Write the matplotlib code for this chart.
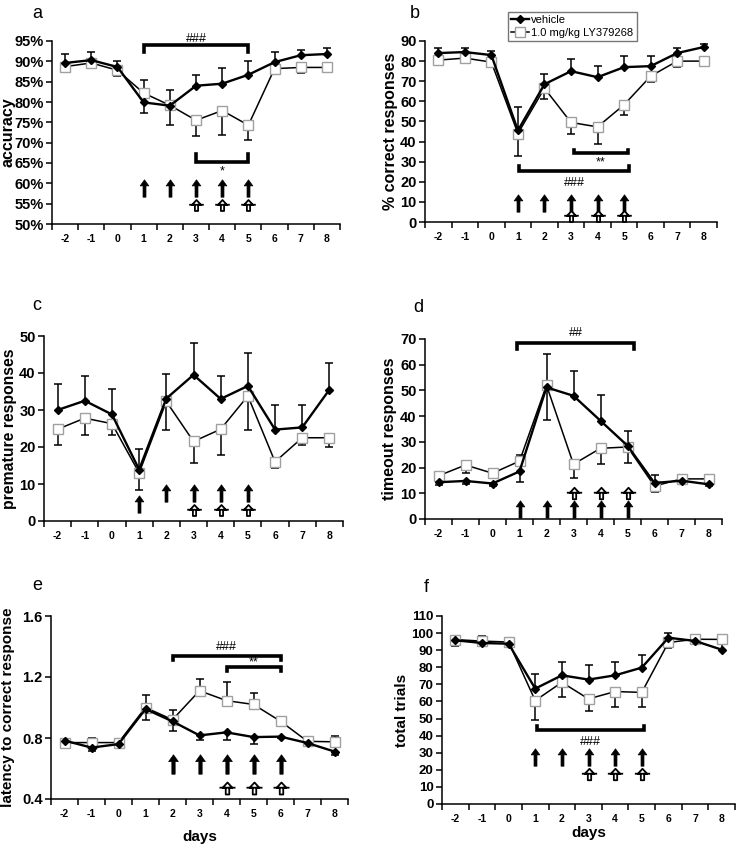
import matplotlib
matplotlib.use('Agg')
import matplotlib.pyplot as plt
from matplotlib.path import Path
from matplotlib.ticker import FixedLocator, FuncFormatter, NullFormatter
import numpy as np

plt.rcParams['font.family'] = ['Liberation Sans', 'DejaVu Sans']

# ---------------- data ----------------
days = [-2, -1, 0, 1, 2, 3, 4, 5, 6, 7, 8]
day_labels = [str(d) for d in days]
legend_labels = ['vehicle', '1.0 mg/kg LY379268']

# a: accuracy (%)
acc_veh = [89.6, 90.3, 88.6, 79.9, 79.1, 84.0, 84.5, 86.7, 89.8, 91.5, 91.8]
acc_veh_err = [2.2, 1.9, 1.4, -2.6, 3.9, 2.6, 3.8, 3.3, 2.6, 1.2, 1.4]
acc_drug = [88.7, 89.6, 87.8, 82.2, 79.2, 75.5, 77.9, 74.3, 88.2, 88.5, 88.5]
acc_drug_err = [-0.9, -1.0, -1.4, 3.2, -4.9, -3.9, -6.0, -3.6, -0.6, -1.3, -0.7]

# b: % correct responses
cor_veh = [84, 84.5, 83, 45.5, 68.5, 75, 72, 77, 77.5, 84, 87]
cor_veh_err = [2.5, 1.8, 2.2, 11.5, 5, 6, 5.5, 5.5, 4.8, 2.3, 1.5]
cor_drug = [80.5, 81.5, 79.5, 44, 66.5, 49.5, 47.3, 58.3, 72.5, 80, 80]
cor_drug_err = [-2.5, -2, -1.5, -11, -5.5, -5.7, -8.5, -5.3, -3, -3, -2.2]

# c: premature responses
pre_veh = [30, 32.5, 28.8, 13.9, 33.1, 39.5, 33, 36.5, 24.7, 25.3, 35.5]
pre_veh_err = [7, 6.7, 7, 5.5, 6.7, 8.5, 6.3, 8.9, 6.7, 6.1, 7.2]
pre_drug = [24.8, 27.8, 26.3, 13, 32.3, 21.5, 24.8, 33.8, 16, 22.5, 22.5]
pre_drug_err = [-4.2, -4.5, -3.1, -4.7, -7.7, -5.8, -7, -9.2, -1.7, -1.9, -2.4]

# d: timeout responses
to_veh = [14.3, 14.8, 13.8, 18.5, 51.2, 47.9, 38.2, 28.5, 14.0, 14.9, 13.5]
to_veh_err = [-1, -1, -1, -4, 13.1, 9.6, 10.1, 5.7, 3.3, -0.8, -0.8]
to_drug = [16.8, 21, 17.8, 22.5, 52, 21.3, 27.5, 28, 12.8, 15.6, 15.6]
to_drug_err = [1.5, -3, -2, 2.5, -13.5, -5.5, -6, -6.3, -2.3, 1.4, -0.8]

# e: latency to correct response
lat_veh = [0.783, 0.737, 0.760, 0.99, 0.909, 0.817, 0.837, 0.806, 0.809, 0.767, 0.711]
lat_veh_err = [-0.02, -0.02, -0.02, -0.07, -0.065, -0.03, -0.05, -0.045, -0.01, -0.01, -0.02]
lat_drug = [0.77, 0.77, 0.77, 1.0, 0.92, 1.11, 1.045, 1.02, 0.91, 0.778, 0.775]
lat_drug_err = [0.02, 0.03, 0.02, 0.08, 0.065, 0.075, 0.12, 0.075, 0.02, 0.015, 0.035]

# f: total trials
tt_veh = [95.8, 94.2, 93.8, 67.5, 75.3, 72.8, 75.3, 79.8, 97.3, 95.4, 90.3]
tt_veh_err = [2.7, 4, 2.7, 8.5, 7.7, 8.5, 8, 7.2, 2.9, 3.2, 4]
tt_drug = [96.2, 95.3, 94.8, 60.5, 71.2, 61.5, 65.8, 65.3, 94.5, 96.4, 96.3]
tt_drug_err = [-3.7, -2.8, -2.3, -11.5, -8.7, -7, -8.8, -8.6, -3.5, -1.9, -0.5]

# treatment arrows (days)
black_arrow_days = [1, 2, 3, 4, 5]
open_arrow_days = [3, 4, 5]
black_arrow_days_e = [2, 3, 4, 5, 6]
open_arrow_days_e = [4, 5, 6]

# ---------------- helpers ----------------
black_arrow = Path([(-0.5, 0.3), (0, 1), (0.5, 0.3), (0.17, 0.3), (0.17, -1),
                    (-0.17, -1), (-0.17, 0.3), (-0.5, 0.3)],
                   [Path.MOVETO] + [Path.LINETO] * 6 + [Path.CLOSEPOLY])
open_arrow = Path([(-0.6, 0.1), (0, 0.75), (0.6, 0.1), (0.22, 0.1), (0.22, -0.75),
                   (-0.22, -0.75), (-0.22, 0.1), (-0.6, 0.1),
                   (-1.0, 0.1), (1.0, 0.1)],
                  [Path.MOVETO] + [Path.LINETO] * 6 + [Path.CLOSEPOLY,
                   Path.MOVETO, Path.LINETO])

W, H = 740.0, 848.0


def panel(ax, veh, veh_err, drug, drug_err, ylim, yticks, fmt, tick_fs=10.5):
    x = np.asarray(days, float)
    for vals, errs in ((veh, veh_err), (drug, drug_err)):
        y0 = np.asarray(vals, float)
        y1 = y0 + np.asarray(errs, float)
        ax.vlines(x, y0, y1, color='black', lw=1.1, zorder=2)
        ax.plot(x, y1, ls='none', marker='_', ms=5.5, mew=1.1, color='black', zorder=2)
    ax.plot(x, drug, color='black', lw=1.1, marker='s', ms=6.5, mfc='white',
            mec='#a0a0a0', mew=1.0, zorder=3, label=legend_labels[1])
    ax.plot(x, veh, color='black', lw=1.7, marker='D', ms=4.5, mfc='black',
            mec='black', zorder=4, label=legend_labels[0])
    ax.set_xlim(-2.5, 8.5)
    ax.set_ylim(*ylim)
    ax.xaxis.set_major_locator(FixedLocator(np.arange(-2.5, 8.6, 1.0)))
    ax.xaxis.set_major_formatter(NullFormatter())
    ax.xaxis.set_minor_locator(FixedLocator(days))
    ax.set_xticklabels(day_labels, minor=True)
    ax.tick_params(axis='x', which='major', direction='out', length=4, width=1.1)
    ax.tick_params(axis='x', which='minor', length=0, pad=7, labelsize=7.5)
    for lab in ax.get_xticklabels(minor=True):
        lab.set_fontweight('bold')
    ax.set_yticks(yticks)
    ax.yaxis.set_major_formatter(FuncFormatter(fmt))
    ax.tick_params(axis='y', direction='out', length=4, width=1.1, labelsize=tick_fs, pad=2)
    for lab in ax.get_yticklabels():
        lab.set_fontweight('bold')
    for s in ('top', 'right'):
        ax.spines[s].set_visible(False)
    for s in ('left', 'bottom'):
        ax.spines[s].set_linewidth(1.1)


def ylabel(ax, text, right_px, axleft_px, axwidth_px, fs=11.5):
    ax.set_ylabel(text, fontsize=fs, fontweight='bold')
    ax.yaxis.set_label_coords((right_px - axleft_px) / axwidth_px, 0.5)


def arrows(ax, bdays, by, odays, oy, bsize=12.5, osize=10.5):
    ax.plot(bdays, [by] * len(bdays), ls='none', marker=black_arrow, ms=bsize,
            mfc='black', mec='black', mew=0.5, zorder=5, clip_on=False)
    ax.plot(odays, [oy] * len(odays), ls='none', marker=open_arrow, ms=osize,
            mfc='white', mec='black', mew=1.3, zorder=5, clip_on=False)


def bracket(ax, x1, x2, y, yend, label, ly, fs=9):
    ax.plot([x1, x1, x2, x2], [yend, y, y, yend], color='black', lw=2.6,
            solid_joinstyle='miter', zorder=5, clip_on=False)
    ax.text((x1 + x2) / 2, ly, label, ha='center', va='center', fontsize=fs,
            zorder=6, clip_on=False)


pct = lambda v, p: '%d%%' % round(v)
intf = lambda v, p: '%d' % round(v)
f1 = lambda v, p: '%.1f' % v

fig = plt.figure(figsize=(7.4, 8.48), dpi=100)


def add_ax(l, r, t, b):
    return fig.add_axes([l / W, 1 - b / H, (r - l) / W, (b - t) / H])


ax_a = add_ax(52, 340, 41, 224)
ax_b = add_ax(425, 717, 41, 222)
ax_c = add_ax(44, 343, 336, 521)
ax_d = add_ax(425, 722, 339, 519)
ax_e = add_ax(51, 348, 616, 799)
ax_f = add_ax(442, 735, 616, 804)

# a
panel(ax_a, acc_veh, acc_veh_err, acc_drug, acc_drug_err, (50, 95), np.arange(50, 96, 5), pct)
arrows(ax_a, black_arrow_days, 58.8, open_arrow_days, 54.6)
bracket(ax_a, 1, 5, 94.0, 92.2, '###', 95.6)
bracket(ax_a, 3, 5, 65.2, 67.3, '*', 63.0)
ylabel(ax_a, 'accuracy', 16, 52, 288)

# b
panel(ax_b, cor_veh, cor_veh_err, cor_drug, cor_drug_err, (0, 90), np.arange(0, 91, 10), intf)
arrows(ax_b, black_arrow_days, 9.2, open_arrow_days, 3.0)
bracket(ax_b, 3.1, 5.15, 34.3, 36.0, '**', 29.8)
bracket(ax_b, 1.05, 5.2, 25.2, 27.6, '###', 19.3)
ylabel(ax_b, '% correct responses', 398, 425, 292)
h, l = ax_b.get_legend_handles_labels()
ax_b.legend(h[::-1], l[::-1], loc='upper left', bbox_to_anchor=(508 / W, 1 - 12 / H),
            bbox_transform=fig.transFigure, fontsize=8, frameon=True, fancybox=False,
            edgecolor='#555555', borderpad=0.3, labelspacing=0.25, handlelength=1.6,
            handletextpad=0.2, borderaxespad=0)

# c
panel(ax_c, pre_veh, pre_veh_err, pre_drug, pre_drug_err, (0, 50), np.arange(0, 51, 10), intf)
arrows(ax_c, black_arrow_days[1:], 7.5, open_arrow_days, 3.1)
arrows(ax_c, black_arrow_days[:1], 4.5, [], 0)
ylabel(ax_c, 'premature responses', 17, 44, 299, fs=11.3)

# d
panel(ax_d, to_veh, to_veh_err, to_drug, to_drug_err, (0, 70), np.arange(0, 71, 10), intf)
arrows(ax_d, black_arrow_days, 3.9, open_arrow_days, 10.3, osize=11)
bracket(ax_d, 0.9, 5.25, 68.6, 66.0, '##', 72.3)
ylabel(ax_d, 'timeout responses', 397, 425, 297)

# e
panel(ax_e, lat_veh, lat_veh_err, lat_drug, lat_drug_err, (0.4, 1.6), [0.4, 0.8, 1.2, 1.6], f1)
arrows(ax_e, black_arrow_days_e, 0.631, open_arrow_days_e, 0.474, bsize=14, osize=11.5)
bracket(ax_e, 2, 6, 1.338, 1.314, '###', 1.395)
bracket(ax_e, 4, 6, 1.265, 1.238, '**', 1.295)
ylabel(ax_e, 'latency to correct response', 15, 51, 297, fs=11)
ax_e.set_xlabel('days', fontsize=11, fontweight='bold', labelpad=8)

# f
panel(ax_f, tt_veh, tt_veh_err, tt_drug, tt_drug_err, (0, 110), np.arange(0, 111, 10), intf, tick_fs=9.5)
arrows(ax_f, black_arrow_days, 27.6, open_arrow_days, 17.7, osize=11)
bracket(ax_f, 1.05, 5.1, 43.2, 45.8, '###', 36.4)
ylabel(ax_f, 'total trials', 409, 442, 293, fs=11)
ax_f.set_xlabel('days', fontsize=11, fontweight='bold', labelpad=2)

# panel letters
for letter, (px, py) in zip('abcdef', [(32, 14), (410, 14), (32, 306), (413, 307),
                                       (32, 586), (424, 587)]):
    fig.text(px / W, 1 - py / H, letter, fontsize=13, ha='left', va='center')

fig.savefig('out.png', dpi=100)
